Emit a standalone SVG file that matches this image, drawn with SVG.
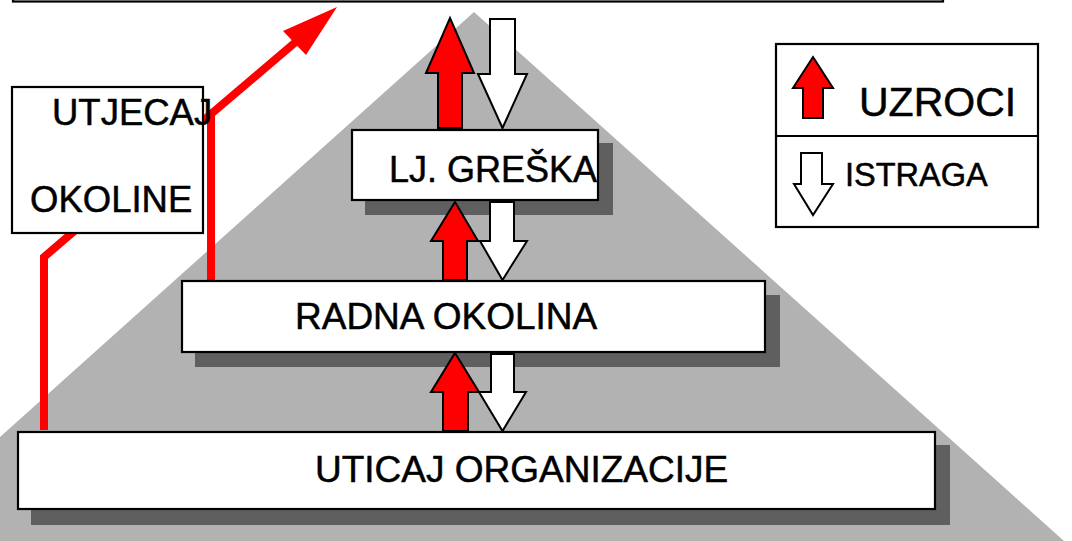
<svg xmlns="http://www.w3.org/2000/svg" width="1072" height="541" viewBox="0 0 1072 541">
  <style>
    .box { fill: #ffffff; stroke: #000000; stroke-width: 2.2; }
    .shadow { fill: #5f5f5f; }
    .lbl { font-family: "Liberation Sans", Arial, sans-serif; fill: #000000; stroke: #000000; stroke-width: 0.5; }
    .up { fill: #ff0000; stroke: #000000; stroke-width: 2; stroke-linejoin: miter; }
    .down { fill: #ffffff; stroke: #000000; stroke-width: 2; stroke-linejoin: miter; }
    .path { fill: none; stroke: #ff0000; stroke-width: 8; stroke-linejoin: miter; }
  </style>

  <rect width="1072" height="541" fill="#ffffff"/>

  <!-- pyramid background -->
  <polygon id="pyramid" points="474,12 1064,541 -116,541" fill="#b2b2b2"/>

  <!-- top frame (extends beyond the upper edge) -->
  <g id="top-frame">
    <rect class="box" x="13" y="-20" width="930" height="21.5" stroke-width="2.6"/>
  </g>

  <!-- drop shadows of the level boxes -->
  <g id="shadows">
    <rect class="shadow" x="365" y="143" width="248" height="72"/>
    <rect class="shadow" x="195" y="295" width="585" height="72"/>
    <rect class="shadow" x="31" y="445" width="919" height="80"/>
  </g>

  <!-- connectors -->
  <g id="connectors">
    <!-- environment influence path -->
    <polyline class="path" points="44,430 44,257 211,114 298,40"/>
    <line class="path" x1="211" y1="282" x2="211" y2="114"/>
    <polygon fill="#ff0000" points="337,7 283,31 306,55"/>

    <!-- causes (up) and investigation (down), top level -->
    <polygon class="up" points="450,18 474,73 462,73 462,128 438,128 438,73 426,73"/>
    <polygon class="down" points="490,19 515,19 515,74 527,74 502.5,128 478,74 490,74"/>

    <!-- middle level -->
    <polygon class="up" points="455,202 478,241 467,241 467,280 443,280 443,241 431,241"/>
    <polygon class="down" points="490,202 514,202 514,241 527,241 502.5,280 480,241 490,241"/>

    <!-- bottom level -->
    <polygon class="up" points="455,353 479,392 468,392 468,431 443,431 443,392 431,392"/>
    <polygon class="down" points="491,354 514,354 514,392 526,392 502.5,431 479,392 491,392"/>
  </g>

  <!-- environment influence box -->
  <g id="utjecaj-okoline">
    <rect class="box" x="12" y="87" width="191" height="146"/>
    <text class="lbl" x="52" y="125" font-size="36.5">UTJECAJ</text>
    <text class="lbl" x="30" y="212" font-size="36.5">OKOLINE</text>
  </g>

  <!-- human error -->
  <g id="lj-greska">
    <rect class="box" x="352" y="130" width="246" height="70"/>
    <text class="lbl" x="389" y="182" font-size="36">LJ. GREŠKA</text>
  </g>

  <!-- working environment -->
  <g id="radna-okolina">
    <rect class="box" x="182" y="281" width="583" height="71"/>
    <text class="lbl" x="295" y="329" font-size="37">RADNA OKOLINA</text>
  </g>

  <!-- organisational influence -->
  <g id="uticaj-organizacije">
    <rect class="box" x="18" y="432" width="917" height="77"/>
    <text class="lbl" x="315" y="482" font-size="37">UTICAJ ORGANIZACIJE</text>
  </g>

  <!-- legend -->
  <g id="legend">
    <rect class="box" x="776" y="44" width="262" height="183"/>
    <line x1="776" y1="136" x2="1038" y2="136" stroke="#000000" stroke-width="2"/>
    <polygon class="up" stroke-width="1.5" points="813,57 833,88 823,88 823,118 803,118 803,88 793,88"/>
    <text class="lbl" x="859" y="116" font-size="41">UZROCI</text>
    <polygon class="down" stroke-width="1.5" points="801,153 822,153 822,184 833,184 813,215 794,184 801,184"/>
    <text class="lbl" x="845" y="186" font-size="32.5">ISTRAGA</text>
  </g>
</svg>
